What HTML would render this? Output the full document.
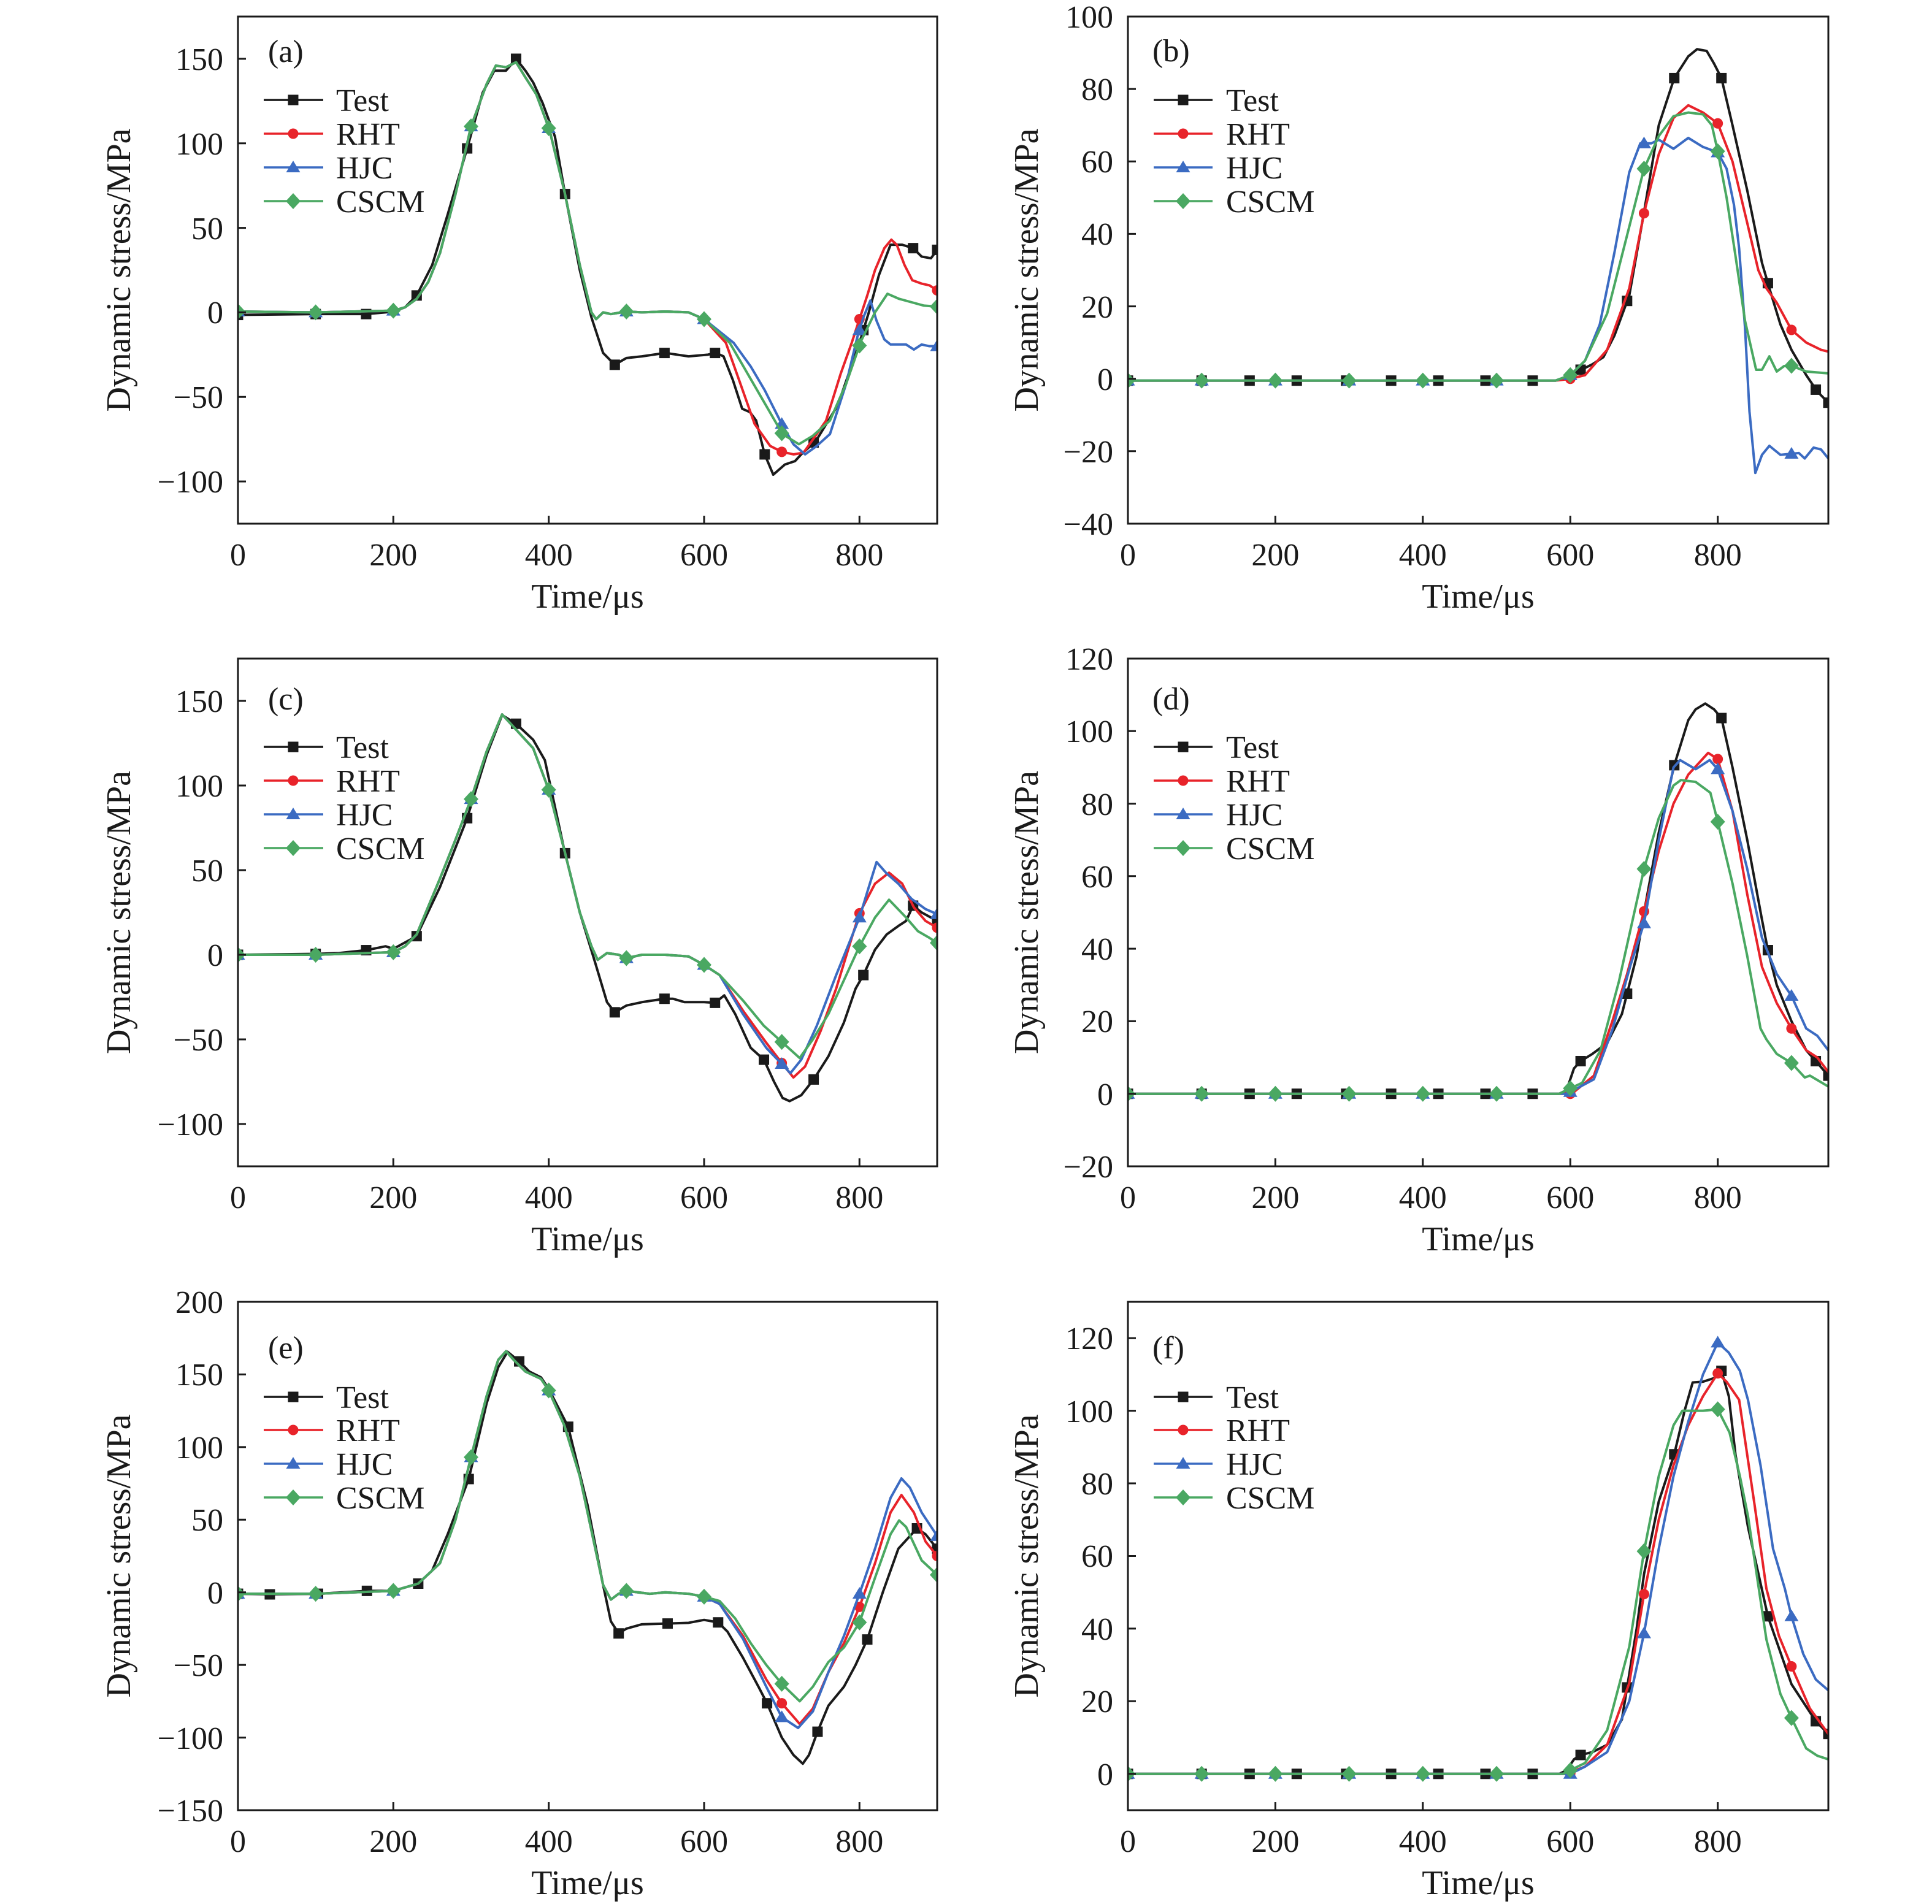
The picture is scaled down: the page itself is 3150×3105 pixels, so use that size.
<!DOCTYPE html>
<html><head><meta charset="utf-8">
<style>
html,body{margin:0;padding:0;background:#fff;}
svg{display:block}
text{font-family:"Liberation Serif","Times New Roman",serif;fill:#1a1a1a}
.tk{font-size:52px;text-anchor:end}
.tx{font-size:52px;text-anchor:middle}
.lg{font-size:52px}
.pl{font-size:52px}
.xl{font-size:56px;text-anchor:middle}
.yl{font-size:56px;text-anchor:middle}
polyline{fill:none;stroke-width:4;stroke-linejoin:round;stroke-linecap:round;vector-effect:non-scaling-stroke}
.T{stroke:#1a1a1a}.R{stroke:#e8232a}.H{stroke:#3b6bc2}.G{stroke:#4aa862}
</style></head><body>
<svg width="3150" height="3105" viewBox="0 0 3150 3105" xmlns="http://www.w3.org/2000/svg">
<rect width="3150" height="3105" fill="#fff"/>
<defs>
<clipPath id="cpa"><rect x="388" y="27" width="1140" height="827"/></clipPath>
<clipPath id="cpb"><rect x="1839" y="27" width="1142" height="827"/></clipPath>
<clipPath id="cpc"><rect x="388" y="1074" width="1140" height="828"/></clipPath>
<clipPath id="cpd"><rect x="1839" y="1074" width="1142" height="828"/></clipPath>
<clipPath id="cpe"><rect x="388" y="2123" width="1140" height="829"/></clipPath>
<clipPath id="cpf"><rect x="1839" y="2123" width="1142" height="829"/></clipPath>
<rect id="mT" x="-8.5" y="-8.5" width="17" height="17" fill="#1a1a1a"/>
<circle id="mR" cx="0" cy="0" r="8.5" fill="#e8232a"/>
<polygon id="mH" points="0,-11 11.5,8 -11.5,8" fill="#3b6bc2"/>
<polygon id="mG" points="0,-13 12,0 0,13 -12,0" fill="#4aa862"/>
<g id="aT" transform="scale(0.789474,-0.362757)"><use href="#mT"/></g>
<g id="aR" transform="scale(0.789474,-0.362757)"><use href="#mR"/></g>
<g id="aH" transform="scale(0.789474,-0.362757)"><use href="#mH"/></g>
<g id="aG" transform="scale(0.789474,-0.362757)"><use href="#mG"/></g>
<g id="bT" transform="scale(0.831874,-0.169287)"><use href="#mT"/></g>
<g id="bR" transform="scale(0.831874,-0.169287)"><use href="#mR"/></g>
<g id="bH" transform="scale(0.831874,-0.169287)"><use href="#mH"/></g>
<g id="bG" transform="scale(0.831874,-0.169287)"><use href="#mG"/></g>
<g id="cT" transform="scale(0.789474,-0.362319)"><use href="#mT"/></g>
<g id="cR" transform="scale(0.789474,-0.362319)"><use href="#mR"/></g>
<g id="cH" transform="scale(0.789474,-0.362319)"><use href="#mH"/></g>
<g id="cG" transform="scale(0.789474,-0.362319)"><use href="#mG"/></g>
<g id="dT" transform="scale(0.831874,-0.169082)"><use href="#mT"/></g>
<g id="dR" transform="scale(0.831874,-0.169082)"><use href="#mR"/></g>
<g id="dH" transform="scale(0.831874,-0.169082)"><use href="#mH"/></g>
<g id="dG" transform="scale(0.831874,-0.169082)"><use href="#mG"/></g>
<g id="eT" transform="scale(0.789474,-0.422195)"><use href="#mT"/></g>
<g id="eR" transform="scale(0.789474,-0.422195)"><use href="#mR"/></g>
<g id="eH" transform="scale(0.789474,-0.422195)"><use href="#mH"/></g>
<g id="eG" transform="scale(0.789474,-0.422195)"><use href="#mG"/></g>
<g id="fT" transform="scale(0.831874,-0.168878)"><use href="#mT"/></g>
<g id="fR" transform="scale(0.831874,-0.168878)"><use href="#mR"/></g>
<g id="fH" transform="scale(0.831874,-0.168878)"><use href="#mH"/></g>
<g id="fG" transform="scale(0.831874,-0.168878)"><use href="#mG"/></g>
</defs>

<!-- ================= Panel a curves ================= -->
<g clip-path="url(#cpa)"><g transform="translate(388,509.417) scale(1.266667,-2.756667)">
<polyline class="T" vector-effect="non-scaling-stroke" points="0,-1.5 100,-1 165,-1 190,0 200,0.5 215,3 230,10 250,28 270,58 295,97 315,130 330,143 345,143 358,150 370,143 380,136 392,124 408,104 421,70 440,25 455,-3 470,-24 485,-31 500,-27 520,-26 550,-24 580,-26 605,-25 615,-24 625,-26 637,-40 649,-57 659,-59 667,-64 678,-84 689,-96 704,-90 717,-88 725,-84 744,-76 772,-55 800,-18 812,0 825,22 840,40 855,40 869,38 880,33 892,32 900,37"/>
<use href="#aT" x="0" y="-1.5"/><use href="#aT" x="100" y="-1"/><use href="#aT" x="165" y="-1"/><use href="#aT" x="230" y="10"/><use href="#aT" x="295" y="97"/><use href="#aT" x="358" y="150"/><use href="#aT" x="421" y="70"/><use href="#aT" x="485" y="-31"/><use href="#aT" x="549" y="-24"/><use href="#aT" x="614" y="-24"/><use href="#aT" x="678" y="-84"/><use href="#aT" x="741" y="-77"/><use href="#aT" x="805" y="-10.5"/><use href="#aT" x="869" y="38"/><use href="#aT" x="900" y="37"/>
<polyline class="R" vector-effect="non-scaling-stroke" points="0,0.5 100,0 200,1 215,3 230,8 245,18 260,35 280,70 300,110 320,135 332,146 345,145 358,148 370,139 384,129 401,108 420,72 440,28 455,0 461,-4 470,0 480,-1 500,0.5 520,0 550,0.5 580,0 600,-4 628,-18 645,-40 665,-66 685,-79 700,-82.5 715,-84 728,-83 745,-72 757,-64 776,-36 790,-18 800,-4 810,10 820,25 832,38 841,43 848,40 858,28 868,19 880,17 890,16 900,13"/>
<use href="#aR" x="0" y="0.5"/><use href="#aR" x="100" y="0"/><use href="#aR" x="200" y="1"/><use href="#aR" x="300" y="110"/><use href="#aR" x="400" y="109"/><use href="#aR" x="500" y="0.5"/><use href="#aR" x="600" y="-4"/><use href="#aR" x="700" y="-82.5"/><use href="#aR" x="800" y="-4"/><use href="#aR" x="900" y="13"/>
<polyline class="H" vector-effect="non-scaling-stroke" points="0,0.5 100,0 200,1 215,3 230,8 245,18 260,35 280,70 300,110 320,135 332,146 345,145 358,148 370,139 384,129 401,108 420,72 440,28 455,0 461,-4 470,0 480,-1 500,0.5 520,0 550,0.5 580,0 600,-4 638,-18 660,-32 678,-46 701,-67 715,-78 730,-84 745,-79 762,-72 783,-42 797,-15 805,-3 814,7 822,-5 832,-16 840,-19 860,-19 870,-22 880,-19 890,-20 900,-20"/>
<use href="#aH" x="0" y="0.5"/><use href="#aH" x="100" y="0"/><use href="#aH" x="200" y="1"/><use href="#aH" x="300" y="110"/><use href="#aH" x="400" y="109"/><use href="#aH" x="500" y="0.5"/><use href="#aH" x="600" y="-4"/><use href="#aH" x="700" y="-66"/><use href="#aH" x="800" y="-10.5"/><use href="#aH" x="900" y="-20"/>
<polyline class="G" vector-effect="non-scaling-stroke" points="0,0.5 100,0 200,1 215,3 230,8 245,18 260,35 280,70 300,110 320,135 332,146 345,145 358,148 370,139 384,129 401,108 420,72 440,28 455,0 461,-4 470,0 480,-1 500,0.5 520,0 550,0.5 580,0 600,-4 633,-18 667,-45 701,-72 722,-78 740,-73 762,-64 783,-42 802,-17 820,0 836,11 851,8 867,6 883,4 900,3.4"/>
<use href="#aG" x="0" y="0.5"/><use href="#aG" x="100" y="0"/><use href="#aG" x="200" y="1"/><use href="#aG" x="300" y="110"/><use href="#aG" x="400" y="109"/><use href="#aG" x="500" y="0.5"/><use href="#aG" x="600" y="-4"/><use href="#aG" x="700" y="-71.5"/><use href="#aG" x="800" y="-19.6"/><use href="#aG" x="900" y="3.4"/>
</g></g>

<!-- ================= Panel b curves ================= -->
<g clip-path="url(#cpb)"><g transform="translate(1839,617.714) scale(1.202105,-5.907143)">
<polyline class="T" vector-effect="non-scaling-stroke" points="0,-0.5 580,-0.5 600,0.5 615,2.5 630,4 645,6 660,12 680,23 700,46 720,70 741,83 760,89 772,91 785,90.5 795,87 805,83 820,70 840,52 860,32 870,25 885,15 900,8 920,1 935,-3.5 950,-6.6"/>
<use href="#bT" x="0" y="-0.5"/><use href="#bT" x="100" y="-0.5"/><use href="#bT" x="165" y="-0.5"/><use href="#bT" x="229" y="-0.5"/><use href="#bT" x="296" y="-0.5"/><use href="#bT" x="357" y="-0.5"/><use href="#bT" x="421" y="-0.5"/><use href="#bT" x="485" y="-0.5"/><use href="#bT" x="549" y="-0.5"/><use href="#bT" x="614" y="2.5"/><use href="#bT" x="677" y="21.5"/><use href="#bT" x="741" y="83"/><use href="#bT" x="805" y="83"/><use href="#bT" x="868" y="26.4"/><use href="#bT" x="933" y="-3"/><use href="#bT" x="950" y="-6.6"/>
<polyline class="R" vector-effect="non-scaling-stroke" points="0,-0.5 580,-0.5 600,0 620,1 650,8 680,25 700,45.7 720,62 740,72 760,75.5 780,73.5 800,70.5 820,60 840,43 855,30 866,25 880,21 900,13.5 920,10 940,8 950,7.5"/>
<use href="#bR" x="0" y="-0.5"/><use href="#bR" x="100" y="-0.5"/><use href="#bR" x="200" y="-0.5"/><use href="#bR" x="300" y="-0.5"/><use href="#bR" x="400" y="-0.5"/><use href="#bR" x="500" y="-0.5"/><use href="#bR" x="600" y="0"/><use href="#bR" x="700" y="45.7"/><use href="#bR" x="800" y="70.5"/><use href="#bR" x="900" y="13.5"/>
<polyline class="H" vector-effect="non-scaling-stroke" points="0,-0.5 580,-0.5 600,1 620,5 640,15 660,35 680,57 695,65 710,65 720,66 740,63.5 760,66.5 780,64 800,62.5 812,58 822,48 829,36 837,14 843,-9 851,-26 860,-21 870,-18.5 885,-21 900,-20.7 910,-20.5 918,-22 930,-19 940,-19.5 950,-22"/>
<use href="#bH" x="0" y="-0.5"/><use href="#bH" x="100" y="-0.5"/><use href="#bH" x="200" y="-0.5"/><use href="#bH" x="300" y="-0.5"/><use href="#bH" x="400" y="-0.5"/><use href="#bH" x="500" y="-0.5"/><use href="#bH" x="600" y="1"/><use href="#bH" x="700" y="65"/><use href="#bH" x="800" y="62.5"/><use href="#bH" x="900" y="-20.7"/>
<polyline class="G" vector-effect="non-scaling-stroke" points="0,-0.5 580,-0.5 600,1 620,5 650,18 680,42 700,58 720,67 740,72.5 760,73.5 780,73 792,70 800,62.8 812,50 824,34 837,16 852,2.5 860,2.5 870,6.2 880,2 890,3.5 900,3.6 920,2 950,1.5"/>
<use href="#bG" x="0" y="-0.5"/><use href="#bG" x="100" y="-0.5"/><use href="#bG" x="200" y="-0.5"/><use href="#bG" x="300" y="-0.5"/><use href="#bG" x="400" y="-0.5"/><use href="#bG" x="500" y="-0.5"/><use href="#bG" x="600" y="1"/><use href="#bG" x="700" y="58"/><use href="#bG" x="800" y="62.8"/><use href="#bG" x="900" y="3.6"/>
</g></g>

<!-- ================= Panel c curves ================= -->
<g clip-path="url(#cpc)"><g transform="translate(388,1557) scale(1.266667,-2.76)">
<polyline class="T" vector-effect="non-scaling-stroke" points="0,0 100,0.5 130,1 165,2.7 190,5 200,3.5 230,11 260,40 295,80.7 320,118 340,141.6 358,136.5 380,127 395,115 420,62 440,25 460,-5 475,-28 485,-34 500,-30 520,-28 549,-26 560,-26 575,-28 600,-28 614,-28.4 626,-24 640,-35 660,-55 677,-62 690,-75 701,-84.6 710,-86.5 725,-83 741,-73.7 760,-60 780,-40 795,-20 805,-12 820,3 835,12 850,17 860,20 869,29 880,25 900,20"/>
<use href="#cT" x="0" y="0"/><use href="#cT" x="100" y="0.5"/><use href="#cT" x="165" y="2.7"/><use href="#cT" x="230" y="11"/><use href="#cT" x="295" y="80.7"/><use href="#cT" x="358" y="136.5"/><use href="#cT" x="421" y="60"/><use href="#cT" x="485" y="-34"/><use href="#cT" x="549" y="-26"/><use href="#cT" x="614" y="-28.4"/><use href="#cT" x="677" y="-62"/><use href="#cT" x="741" y="-73.7"/><use href="#cT" x="805" y="-12"/><use href="#cT" x="869" y="29"/><use href="#cT" x="900" y="20"/>
<polyline class="R" vector-effect="non-scaling-stroke" points="0,0 100,0 200,1.5 215,5 230,12 260,45 280,68 300,92 320,120 340,142 360,132 380,122 400,97.5 420,62 440,25 455,5 463,-3 475,1 490,0 500,-2 520,0 550,0 580,-1 600,-6 620,-12 650,-33 680,-52 700,-64 715,-72.5 730,-66 750,-45 770,-20 790,10 800,24.5 820,42 838,48.5 855,42 870,28 885,20 900,16"/>
<use href="#cR" x="0" y="0"/><use href="#cR" x="100" y="0"/><use href="#cR" x="200" y="1.5"/><use href="#cR" x="300" y="92"/><use href="#cR" x="400" y="97.5"/><use href="#cR" x="500" y="-2"/><use href="#cR" x="600" y="-6"/><use href="#cR" x="700" y="-64"/><use href="#cR" x="800" y="24.5"/><use href="#cR" x="900" y="16"/>
<polyline class="H" vector-effect="non-scaling-stroke" points="0,0 100,0 200,1.5 215,5 230,12 260,45 280,68 300,92 320,120 340,142 360,132 380,122 400,97.5 420,62 440,25 455,5 463,-3 475,1 490,0 500,-2 520,0 550,0 580,-1 600,-6 620,-12 650,-35 680,-55 700,-64.5 711,-70 725,-62 745,-42 770,-12 785,5 800,22 812,40 822,54.8 835,48 850,42 867,33 885,27 900,24"/>
<use href="#cH" x="0" y="0"/><use href="#cH" x="100" y="0"/><use href="#cH" x="200" y="1.5"/><use href="#cH" x="300" y="92"/><use href="#cH" x="400" y="97.5"/><use href="#cH" x="500" y="-2"/><use href="#cH" x="600" y="-6"/><use href="#cH" x="700" y="-64.5"/><use href="#cH" x="800" y="22"/><use href="#cH" x="900" y="24"/>
<polyline class="G" vector-effect="non-scaling-stroke" points="0,0 100,0 200,1.5 215,5 230,12 260,45 280,68 300,92 320,120 340,142 360,132 380,122 400,97.5 420,62 440,25 455,5 463,-3 475,1 490,0 500,-2 520,0 550,0 580,-1 600,-6 620,-12 650,-27 677,-42 700,-51.5 723,-61 740,-50 760,-35 780,-15 800,5 820,22 838,32.5 860,22 875,14 890,10 900,7"/>
<use href="#cG" x="0" y="0"/><use href="#cG" x="100" y="0"/><use href="#cG" x="200" y="1.5"/><use href="#cG" x="300" y="92"/><use href="#cG" x="400" y="97.5"/><use href="#cG" x="500" y="-2"/><use href="#cG" x="600" y="-6"/><use href="#cG" x="700" y="-51.5"/><use href="#cG" x="800" y="5"/><use href="#cG" x="900" y="7"/>
</g></g>

<!-- ================= Panel d curves ================= -->
<g clip-path="url(#cpd)"><g transform="translate(1839,1783.714) scale(1.202105,-5.914286)">
<polyline class="T" vector-effect="non-scaling-stroke" points="0,0 585,0 595,1 605,7 614,9 630,11 650,14 670,22 690,38 700,50 720,72 741,90.6 760,103 770,106 783,107.6 795,106 805,103.6 820,90 840,70 860,48 868,39.6 880,30 900,20 920,12 933,9 950,5"/>
<use href="#dT" x="0" y="0"/><use href="#dT" x="100" y="0"/><use href="#dT" x="165" y="0"/><use href="#dT" x="229" y="0"/><use href="#dT" x="296" y="0"/><use href="#dT" x="357" y="0"/><use href="#dT" x="421" y="0"/><use href="#dT" x="485" y="0"/><use href="#dT" x="549" y="0"/><use href="#dT" x="614" y="9"/><use href="#dT" x="677" y="27.6"/><use href="#dT" x="741" y="90.6"/><use href="#dT" x="805" y="103.6"/><use href="#dT" x="868" y="39.6"/><use href="#dT" x="933" y="9"/><use href="#dT" x="950" y="5"/>
<polyline class="R" vector-effect="non-scaling-stroke" points="0,0 590,0 605,0.5 632,5 657,20 677,33 700,50.3 720,67 740,80 760,88 787,94 800,92.3 820,78 840,55 860,35 880,25 900,18 920,12 935,10 950,6"/>
<use href="#dR" x="0" y="0"/><use href="#dR" x="100" y="0"/><use href="#dR" x="200" y="0"/><use href="#dR" x="300" y="0"/><use href="#dR" x="400" y="0"/><use href="#dR" x="500" y="0"/><use href="#dR" x="600" y="0"/><use href="#dR" x="700" y="50.3"/><use href="#dR" x="800" y="92.3"/><use href="#dR" x="900" y="18"/>
<polyline class="H" vector-effect="non-scaling-stroke" points="0,0 595,0 600,0.5 632,4 657,17.6 682,35.7 700,47 720,70 740,90 749,92 770,89.5 789,92 800,89.5 820,78 840,62 860,43 880,33 900,27 920,18 935,16 950,12"/>
<use href="#dH" x="0" y="0"/><use href="#dH" x="100" y="0"/><use href="#dH" x="200" y="0"/><use href="#dH" x="300" y="0"/><use href="#dH" x="400" y="0"/><use href="#dH" x="500" y="0"/><use href="#dH" x="600" y="0.5"/><use href="#dH" x="700" y="47"/><use href="#dH" x="800" y="89.5"/><use href="#dH" x="900" y="27"/>
<polyline class="G" vector-effect="non-scaling-stroke" points="0,0 585,0 600,1.5 616,3 641,12 666,31 700,62 720,76 740,85 750,86.5 770,86 790,83 800,75 820,58 840,38 858,18 866,15 880,11 900,8.5 918,4.5 925,5 950,2"/>
<use href="#dG" x="0" y="0"/><use href="#dG" x="100" y="0"/><use href="#dG" x="200" y="0"/><use href="#dG" x="300" y="0"/><use href="#dG" x="400" y="0"/><use href="#dG" x="500" y="0"/><use href="#dG" x="600" y="1.5"/><use href="#dG" x="700" y="62"/><use href="#dG" x="800" y="75"/><use href="#dG" x="900" y="8.5"/>
</g></g>

<!-- ================= Panel e curves ================= -->
<g clip-path="url(#cpe)"><g transform="translate(388,2596.714) scale(1.266667,-2.368571)">
<polyline class="T" vector-effect="non-scaling-stroke" points="0,-1 41,-1.4 103,-1 166,1 200,1 232,6 250,15 270,40 297,78 320,130 335,155 347,165.6 362,159 375,152 390,148 400,140 425,114 450,60 470,5 480,-20 490,-28.3 500,-25 520,-22 553,-21.5 580,-21 600,-19 618,-20.7 630,-27 650,-45 670,-65 681,-76.4 700,-100 715,-112 727,-118 735,-112 746,-96 760,-78 780,-65 795,-50 810,-32.5 830,0 850,30 874,44 885,40 900,30"/>
<use href="#eT" x="0" y="-1"/><use href="#eT" x="41" y="-1.4"/><use href="#eT" x="103" y="-1"/><use href="#eT" x="166" y="1"/><use href="#eT" x="232" y="6"/><use href="#eT" x="297" y="78"/><use href="#eT" x="362" y="159"/><use href="#eT" x="425" y="114"/><use href="#eT" x="490" y="-28.3"/><use href="#eT" x="553" y="-21.5"/><use href="#eT" x="618" y="-20.7"/><use href="#eT" x="681" y="-76.4"/><use href="#eT" x="746" y="-96"/><use href="#eT" x="810" y="-32.5"/><use href="#eT" x="874" y="44"/><use href="#eT" x="900" y="30"/>
<polyline class="R" vector-effect="non-scaling-stroke" points="0,-1 100,-1 200,1 232,6 260,20 280,50 300,93 320,135 335,160 345,166 355,160 370,152 390,147 400,139 420,115 440,80 460,30 470,5 480,-5 490,-1 500,1 530,-1 550,0 580,-1 600,-3 620,-8 650,-30 680,-60 700,-76.4 723,-90.6 740,-80 760,-55 780,-35 800,-10 820,20 840,55 854,67 870,55 885,35 900,25"/>
<use href="#eR" x="0" y="-1"/><use href="#eR" x="100" y="-1"/><use href="#eR" x="200" y="1"/><use href="#eR" x="300" y="93"/><use href="#eR" x="400" y="139"/><use href="#eR" x="500" y="1"/><use href="#eR" x="600" y="-3"/><use href="#eR" x="700" y="-76.4"/><use href="#eR" x="800" y="-10"/><use href="#eR" x="900" y="25"/>
<polyline class="H" vector-effect="non-scaling-stroke" points="0,-1 100,-1 200,1 232,6 260,20 280,50 300,93 320,135 335,160 345,166 355,160 370,152 390,147 400,139 420,115 440,80 460,30 470,5 480,-5 490,-1 500,1 530,-1 550,0 580,-1 600,-3 620,-8 650,-32 680,-65 700,-86 721,-93.4 740,-82 760,-55 780,-30 800,-1 820,30 840,65 854,78.4 865,72 880,55 900,38.8"/>
<use href="#eH" x="0" y="-1"/><use href="#eH" x="100" y="-1"/><use href="#eH" x="200" y="1"/><use href="#eH" x="300" y="93"/><use href="#eH" x="400" y="139"/><use href="#eH" x="500" y="1"/><use href="#eH" x="600" y="-3"/><use href="#eH" x="700" y="-86"/><use href="#eH" x="800" y="-1"/><use href="#eH" x="900" y="38.8"/>
<polyline class="G" vector-effect="non-scaling-stroke" points="0,-1 100,-1 200,1 232,6 260,20 280,50 300,93 320,135 335,160 345,166 355,160 370,152 390,147 400,139 420,115 440,80 460,30 470,5 480,-5 490,-1 500,1 530,-1 550,0 580,-1 600,-3 620,-6 640,-18 660,-35 680,-50 700,-63 723,-75 740,-65 760,-48 780,-38 800,-20.7 820,10 840,40 851,49.5 860,45 880,22 900,12"/>
<use href="#eG" x="0" y="-1"/><use href="#eG" x="100" y="-1"/><use href="#eG" x="200" y="1"/><use href="#eG" x="300" y="93"/><use href="#eG" x="400" y="139"/><use href="#eG" x="500" y="1"/><use href="#eG" x="600" y="-3"/><use href="#eG" x="700" y="-63"/><use href="#eG" x="800" y="-20.7"/><use href="#eG" x="900" y="12"/>
</g></g>

<!-- ================= Panel f curves ================= -->
<g clip-path="url(#cpf)"><g transform="translate(1839,2892.786) scale(1.202105,-5.921429)">
<polyline class="T" vector-effect="non-scaling-stroke" points="0,0 585,0 595,1 605,4 614,5.2 630,6 650,8 670,15 690,40 700,55 720,75 741,88 755,100 766,107.8 780,108 795,109 805,111 815,104 824,88 841,68 868,43.4 900,24.7 933,14.5 950,11"/>
<use href="#fT" x="0" y="0"/><use href="#fT" x="100" y="0"/><use href="#fT" x="165" y="0"/><use href="#fT" x="229" y="0"/><use href="#fT" x="296" y="0"/><use href="#fT" x="357" y="0"/><use href="#fT" x="421" y="0"/><use href="#fT" x="485" y="0"/><use href="#fT" x="549" y="0"/><use href="#fT" x="614" y="5.2"/><use href="#fT" x="677" y="23.8"/><use href="#fT" x="741" y="88"/><use href="#fT" x="805" y="111"/><use href="#fT" x="868" y="43.4"/><use href="#fT" x="933" y="14.5"/><use href="#fT" x="950" y="11"/>
<polyline class="R" vector-effect="non-scaling-stroke" points="0,0 595,0 620,2 650,8 680,25 700,49.5 720,70 740,85 760,96 780,104 800,110.3 812,108 829,103 850,74 866,51 883,38 900,29.6 925,18 950,11"/>
<use href="#fR" x="0" y="0"/><use href="#fR" x="100" y="0"/><use href="#fR" x="200" y="0"/><use href="#fR" x="300" y="0"/><use href="#fR" x="400" y="0"/><use href="#fR" x="500" y="0"/><use href="#fR" x="600" y="0.2"/><use href="#fR" x="700" y="49.5"/><use href="#fR" x="800" y="110.3"/><use href="#fR" x="900" y="29.6"/>
<polyline class="H" vector-effect="non-scaling-stroke" points="0,0 600,0 620,2 650,6 680,20 700,38.7 720,62 740,82 760,97 780,110 800,118.8 815,116 830,111 841,103 858,85 875,62 891,51 900,43.4 916,33 933,26 950,23"/>
<use href="#fH" x="0" y="0"/><use href="#fH" x="100" y="0"/><use href="#fH" x="200" y="0"/><use href="#fH" x="300" y="0"/><use href="#fH" x="400" y="0"/><use href="#fH" x="500" y="0"/><use href="#fH" x="600" y="0"/><use href="#fH" x="700" y="38.7"/><use href="#fH" x="800" y="118.8"/><use href="#fH" x="900" y="43.4"/>
<polyline class="G" vector-effect="non-scaling-stroke" points="0,0 590,0 600,1 620,3 650,12 680,35 700,61.3 720,82 740,96 752,100 780,100 800,100.4 816,94 830,82 841,71 866,37 885,22 900,15.4 920,7 935,5 950,4"/>
<use href="#fG" x="0" y="0"/><use href="#fG" x="100" y="0"/><use href="#fG" x="200" y="0"/><use href="#fG" x="300" y="0"/><use href="#fG" x="400" y="0"/><use href="#fG" x="500" y="0"/><use href="#fG" x="600" y="1"/><use href="#fG" x="700" y="61.3"/><use href="#fG" x="800" y="100.4"/><use href="#fG" x="900" y="15.4"/>
</g></g>

<!-- ================= Frames ================= -->
<g fill="none" stroke="#1a1a1a" stroke-width="3">
<rect x="388" y="27" width="1140" height="827"/>
<rect x="1839" y="27" width="1142" height="827"/>
<rect x="388" y="1074" width="1140" height="828"/>
<rect x="1839" y="1074" width="1142" height="828"/>
<rect x="388" y="2123" width="1140" height="829"/>
<rect x="1839" y="2123" width="1142" height="829"/>
</g>

<!-- ================= Ticks ================= -->
<g fill="none" stroke="#1a1a1a" stroke-width="3">
<path d="M388 95.9h13M388 233.8h13M388 371.6h13M388 509.4h13M388 647.2h13M388 785.1h13M641.3 854v-13M894.7 854v-13M1148 854v-13M1401.3 854v-13"/>
<path d="M1839 145.1h13M1839 263.3h13M1839 381.4h13M1839 499.6h13M1839 617.7h13M1839 735.8h13M2079.4 854v-13M2319.8 854v-13M2560.3 854v-13M2800.7 854v-13"/>
<path d="M388 1143h13M388 1281h13M388 1419h13M388 1557h13M388 1695h13M388 1833h13M641.3 1902v-13M894.7 1902v-13M1148 1902v-13M1401.3 1902v-13"/>
<path d="M1839 1192.3h13M1839 1310.6h13M1839 1428.8h13M1839 1547.1h13M1839 1665.4h13M1839 1783.7h13M2079.4 1902v-13M2319.8 1902v-13M2560.3 1902v-13M2800.7 1902v-13"/>
<path d="M388 2241.4h13M388 2359.9h13M388 2478.3h13M388 2596.7h13M388 2715.1h13M388 2833.6h13M641.3 2952v-13M894.7 2952v-13M1148 2952v-13M1401.3 2952v-13"/>
<path d="M1839 2182.2h13M1839 2300.6h13M1839 2419h13M1839 2537.5h13M1839 2655.9h13M1839 2774.3h13M1839 2892.7h13M2079.4 2952v-13M2319.8 2952v-13M2560.3 2952v-13M2800.7 2952v-13"/>
</g>

<!-- ================= Legend symbols ================= -->
<g stroke-width="3.6">
<line x1="430" y1="163" x2="527" y2="163" stroke="#1a1a1a"/><use href="#mT" x="478" y="163"/>
<line x1="430" y1="218" x2="527" y2="218" stroke="#e8232a"/><use href="#mR" x="478" y="218"/>
<line x1="430" y1="273" x2="527" y2="273" stroke="#3b6bc2"/><use href="#mH" x="478" y="273"/>
<line x1="430" y1="328" x2="527" y2="328" stroke="#4aa862"/><use href="#mG" x="478" y="328"/>
<line x1="1881" y1="163" x2="1977" y2="163" stroke="#1a1a1a"/><use href="#mT" x="1929" y="163"/>
<line x1="1881" y1="218" x2="1977" y2="218" stroke="#e8232a"/><use href="#mR" x="1929" y="218"/>
<line x1="1881" y1="273" x2="1977" y2="273" stroke="#3b6bc2"/><use href="#mH" x="1929" y="273"/>
<line x1="1881" y1="328" x2="1977" y2="328" stroke="#4aa862"/><use href="#mG" x="1929" y="328"/>
<line x1="430" y1="1218" x2="527" y2="1218" stroke="#1a1a1a"/><use href="#mT" x="478" y="1218"/>
<line x1="430" y1="1273" x2="527" y2="1273" stroke="#e8232a"/><use href="#mR" x="478" y="1273"/>
<line x1="430" y1="1328" x2="527" y2="1328" stroke="#3b6bc2"/><use href="#mH" x="478" y="1328"/>
<line x1="430" y1="1383" x2="527" y2="1383" stroke="#4aa862"/><use href="#mG" x="478" y="1383"/>
<line x1="1881" y1="1218" x2="1977" y2="1218" stroke="#1a1a1a"/><use href="#mT" x="1929" y="1218"/>
<line x1="1881" y1="1273" x2="1977" y2="1273" stroke="#e8232a"/><use href="#mR" x="1929" y="1273"/>
<line x1="1881" y1="1328" x2="1977" y2="1328" stroke="#3b6bc2"/><use href="#mH" x="1929" y="1328"/>
<line x1="1881" y1="1383" x2="1977" y2="1383" stroke="#4aa862"/><use href="#mG" x="1929" y="1383"/>
<line x1="430" y1="2278" x2="527" y2="2278" stroke="#1a1a1a"/><use href="#mT" x="478" y="2278"/>
<line x1="430" y1="2332" x2="527" y2="2332" stroke="#e8232a"/><use href="#mR" x="478" y="2332"/>
<line x1="430" y1="2387" x2="527" y2="2387" stroke="#3b6bc2"/><use href="#mH" x="478" y="2387"/>
<line x1="430" y1="2442" x2="527" y2="2442" stroke="#4aa862"/><use href="#mG" x="478" y="2442"/>
<line x1="1881" y1="2278" x2="1977" y2="2278" stroke="#1a1a1a"/><use href="#mT" x="1929" y="2278"/>
<line x1="1881" y1="2332" x2="1977" y2="2332" stroke="#e8232a"/><use href="#mR" x="1929" y="2332"/>
<line x1="1881" y1="2387" x2="1977" y2="2387" stroke="#3b6bc2"/><use href="#mH" x="1929" y="2387"/>
<line x1="1881" y1="2442" x2="1977" y2="2442" stroke="#4aa862"/><use href="#mG" x="1929" y="2442"/>
</g>

<!-- Panel a text -->
<text class="tk" x="364" y="114">150</text>
<text class="tk" x="364" y="252">100</text>
<text class="tk" x="364" y="390">50</text>
<text class="tk" x="364" y="527">0</text>
<text class="tk" x="364" y="665">−50</text>
<text class="tk" x="364" y="803">−100</text>
<text class="tx" x="388" y="922">0</text>
<text class="tx" x="641.3" y="922">200</text>
<text class="tx" x="894.7" y="922">400</text>
<text class="tx" x="1148" y="922">600</text>
<text class="tx" x="1401.3" y="922">800</text>
<text class="xl" x="958" y="991">Time/μs</text>
<text class="yl" transform="translate(212,440.5) rotate(-90)" textLength="462" lengthAdjust="spacing">Dynamic stress/MPa</text>
<text class="pl" x="437" y="101">(a)</text>
<text class="lg" x="548" y="181">Test</text>
<text class="lg" x="548" y="236">RHT</text>
<text class="lg" x="548" y="291">HJC</text>
<text class="lg" x="548" y="346">CSCM</text>

<!-- Panel b text -->
<text class="tk" x="1815" y="45">100</text>
<text class="tk" x="1815" y="163">80</text>
<text class="tk" x="1815" y="281">60</text>
<text class="tk" x="1815" y="399">40</text>
<text class="tk" x="1815" y="518">20</text>
<text class="tk" x="1815" y="636">0</text>
<text class="tk" x="1815" y="754">−20</text>
<text class="tk" x="1815" y="872">−40</text>
<text class="tx" x="1839" y="922">0</text>
<text class="tx" x="2079.4" y="922">200</text>
<text class="tx" x="2319.8" y="922">400</text>
<text class="tx" x="2560.3" y="922">600</text>
<text class="tx" x="2800.7" y="922">800</text>
<text class="xl" x="2410" y="991">Time/μs</text>
<text class="yl" transform="translate(1692,440.5) rotate(-90)" textLength="462" lengthAdjust="spacing">Dynamic stress/MPa</text>
<text class="pl" x="1879" y="100">(b)</text>
<text class="lg" x="1999" y="181">Test</text>
<text class="lg" x="1999" y="236">RHT</text>
<text class="lg" x="1999" y="291">HJC</text>
<text class="lg" x="1999" y="346">CSCM</text>

<!-- Panel c text -->
<text class="tk" x="364" y="1161">150</text>
<text class="tk" x="364" y="1299">100</text>
<text class="tk" x="364" y="1437">50</text>
<text class="tk" x="364" y="1575">0</text>
<text class="tk" x="364" y="1713">−50</text>
<text class="tk" x="364" y="1851">−100</text>
<text class="tx" x="388" y="1970">0</text>
<text class="tx" x="641.3" y="1970">200</text>
<text class="tx" x="894.7" y="1970">400</text>
<text class="tx" x="1148" y="1970">600</text>
<text class="tx" x="1401.3" y="1970">800</text>
<text class="xl" x="958" y="2039">Time/μs</text>
<text class="yl" transform="translate(212,1488) rotate(-90)" textLength="462" lengthAdjust="spacing">Dynamic stress/MPa</text>
<text class="pl" x="437" y="1157">(c)</text>
<text class="lg" x="548" y="1236">Test</text>
<text class="lg" x="548" y="1291">RHT</text>
<text class="lg" x="548" y="1346">HJC</text>
<text class="lg" x="548" y="1401">CSCM</text>

<!-- Panel d text -->
<text class="tk" x="1815" y="1092">120</text>
<text class="tk" x="1815" y="1210">100</text>
<text class="tk" x="1815" y="1329">80</text>
<text class="tk" x="1815" y="1447">60</text>
<text class="tk" x="1815" y="1565">40</text>
<text class="tk" x="1815" y="1683">20</text>
<text class="tk" x="1815" y="1802">0</text>
<text class="tk" x="1815" y="1920">−20</text>
<text class="tx" x="1839" y="1970">0</text>
<text class="tx" x="2079.4" y="1970">200</text>
<text class="tx" x="2319.8" y="1970">400</text>
<text class="tx" x="2560.3" y="1970">600</text>
<text class="tx" x="2800.7" y="1970">800</text>
<text class="xl" x="2410" y="2039">Time/μs</text>
<text class="yl" transform="translate(1692,1488) rotate(-90)" textLength="462" lengthAdjust="spacing">Dynamic stress/MPa</text>
<text class="pl" x="1879" y="1157">(d)</text>
<text class="lg" x="1999" y="1236">Test</text>
<text class="lg" x="1999" y="1291">RHT</text>
<text class="lg" x="1999" y="1346">HJC</text>
<text class="lg" x="1999" y="1401">CSCM</text>

<!-- Panel e text -->
<text class="tk" x="364" y="2141">200</text>
<text class="tk" x="364" y="2259">150</text>
<text class="tk" x="364" y="2378">100</text>
<text class="tk" x="364" y="2496">50</text>
<text class="tk" x="364" y="2615">0</text>
<text class="tk" x="364" y="2733">−50</text>
<text class="tk" x="364" y="2852">−100</text>
<text class="tk" x="364" y="2970">−150</text>
<text class="tx" x="388" y="3020">0</text>
<text class="tx" x="641.3" y="3020">200</text>
<text class="tx" x="894.7" y="3020">400</text>
<text class="tx" x="1148" y="3020">600</text>
<text class="tx" x="1401.3" y="3020">800</text>
<text class="xl" x="958" y="3089">Time/μs</text>
<text class="yl" transform="translate(212,2537.5) rotate(-90)" textLength="462" lengthAdjust="spacing">Dynamic stress/MPa</text>
<text class="pl" x="437" y="2215">(e)</text>
<text class="lg" x="548" y="2296">Test</text>
<text class="lg" x="548" y="2350">RHT</text>
<text class="lg" x="548" y="2405">HJC</text>
<text class="lg" x="548" y="2460">CSCM</text>

<!-- Panel f text -->
<text class="tk" x="1815" y="2200">120</text>
<text class="tk" x="1815" y="2319">100</text>
<text class="tk" x="1815" y="2437">80</text>
<text class="tk" x="1815" y="2555">60</text>
<text class="tk" x="1815" y="2674">40</text>
<text class="tk" x="1815" y="2792">20</text>
<text class="tk" x="1815" y="2911">0</text>
<text class="tx" x="1839" y="3020">0</text>
<text class="tx" x="2079.4" y="3020">200</text>
<text class="tx" x="2319.8" y="3020">400</text>
<text class="tx" x="2560.3" y="3020">600</text>
<text class="tx" x="2800.7" y="3020">800</text>
<text class="xl" x="2410" y="3089">Time/μs</text>
<text class="yl" transform="translate(1692,2537.5) rotate(-90)" textLength="462" lengthAdjust="spacing">Dynamic stress/MPa</text>
<text class="pl" x="1879" y="2215">(f)</text>
<text class="lg" x="1999" y="2296">Test</text>
<text class="lg" x="1999" y="2350">RHT</text>
<text class="lg" x="1999" y="2405">HJC</text>
<text class="lg" x="1999" y="2460">CSCM</text>
</svg>
</body></html>
